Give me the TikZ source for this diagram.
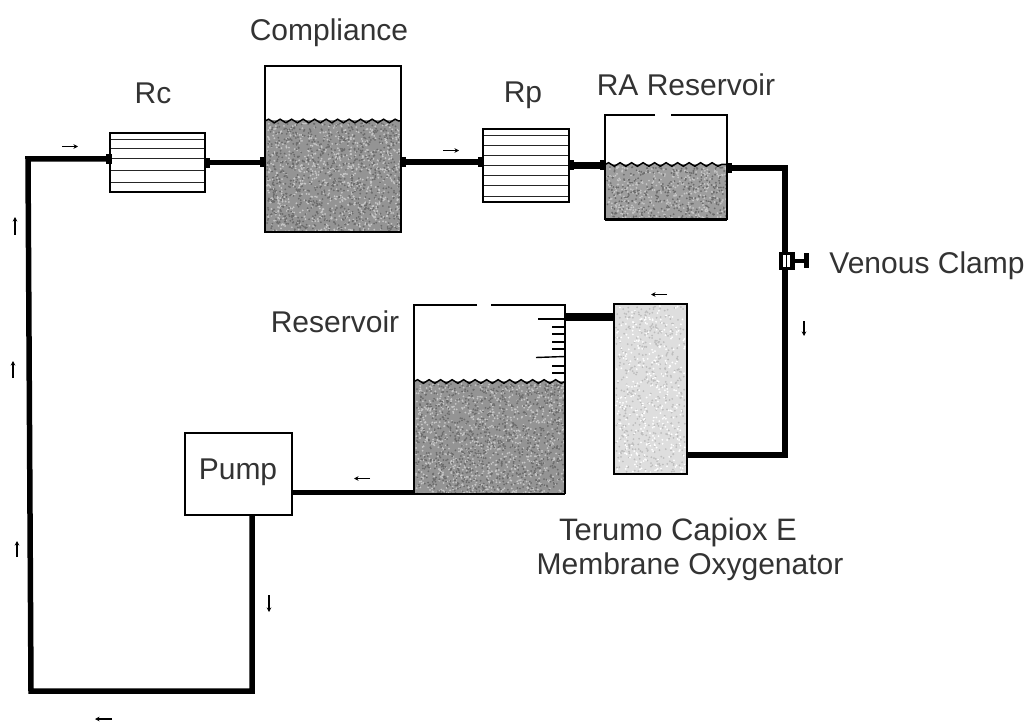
\documentclass[tikz,border=0pt]{standalone}
\usepackage{fontspec}
\setmainfont{Liberation Sans}
\usetikzlibrary{arrows.meta,decorations.pathmorphing}
\definecolor{inkc}{gray}{0.2}
\tikzset{
  box/.style={draw=black,line width=1.6pt,fill=white,inner sep=0pt,outer sep=0pt},
  ghost/.style={inner sep=0pt,outer sep=0pt},
  pipe/.style={draw=black,line width=5.5pt,line join=miter},
  stub/.style={fill=black,inner sep=0pt,outer sep=0pt,minimum width=6pt,minimum height=10pt},
  flow/.style={draw=black,line width=1.3pt,-{Stealth[length=4.5pt,width=4.5pt]}},
  label/.style={text=inkc,font=\fontsize{30}{34}\selectfont,inner sep=0pt,outer sep=0pt,anchor=base},
  wave/.style={draw=black,line width=1.5pt,decorate,decoration={snake,amplitude=1.8pt,segment length=11.5pt}},
  thin rule/.style={draw=black!85,line width=0.8pt},
  wall/.style={draw=black,line width=1.6pt}
}
\newcommand{\speckle}[6]{%
  \foreach \i in {1,...,#5}{%
    \pgfmathsetmacro{\sx}{#1+rnd*(#3-#1)}%
    \pgfmathsetmacro{\sy}{#2+rnd*(#4-#2)}%
    \fill[#6] (\sx,\sy) circle (1);%
  }%
}
\newcommand{\watertank}[5]{% x0 level x1 y1 base gray
  \begin{scope}
  \clip (#1,#2) rectangle (#3,#4);
  \fill[black!#5] (#1,#2) rectangle (#3,#4);
  \pgfmathtruncatemacro{\nd}{(#3-#1)/16*(#4-#2)}%
  \speckle{#1+1}{#2+3}{#3-1}{#4-1}{\nd}{black!22}
  \speckle{#1+1}{#2+3}{#3-1}{#4-1}{\nd}{black!58}
  \end{scope}
}
\begin{document}
\begin{tikzpicture}[x=1pt,y=-1pt]
\pgfmathsetseed{42}
\useasboundingbox[fill=white] (0,0) rectangle (1028,722);

% node frames that the pipes attach to
\node[ghost,minimum width=95pt,minimum height=59pt] (rc) at (157.5,162.5) {};
\node[ghost,minimum width=136pt,minimum height=166pt] (comp) at (333,149) {};
\node[ghost,minimum width=86pt,minimum height=73pt] (rp) at (526,165.5) {};
\node[ghost,minimum width=122pt,minimum height=105pt] (ra) at (666,167.5) {};
\node[ghost,minimum width=151pt,minimum height=189pt] (res) at (489.5,399.5) {};
\node[ghost,minimum width=73pt,minimum height=170pt] (oxy) at (650.5,389) {};
\node[ghost,minimum width=107pt,minimum height=82pt] (pump) at (238.5,474) {};
\node[ghost,minimum width=16pt,minimum height=18pt] (clamp) at (787,261) {};
\coordinate (c1) at (28,159);
\coordinate (c2) at (31,691);
\coordinate (c3) at (252,691);
\coordinate (c4) at (785,168);
\coordinate (c5) at (785,455);
\coordinate (l1) at (0,317);
\coordinate (l2) at (0,492);
\coordinate (l3) at (0,162);

\draw[pipe] ([yshift=3.5pt]rc.west) -- (c1) -- (c2) -- (c3) -- (c3 |- pump.south);
\draw[pipe] (rc.east) -- (comp.west |- rc.east);
\draw[pipe] (comp.east |- l3) -- (rp.west |- l3);
\draw[pipe,line width=6.5pt] (rp.east) -- (ra.west |- rp.east);
\draw[pipe] ([yshift=-0.5pt]ra.east) -- (c4) -- (c5) -- (oxy.east |- c5);
\draw[pipe,line width=7.5pt] (res.east |- l1) -- (oxy.west |- l1);
\draw[pipe,line width=5pt] (pump.east |- l2) -- (res.west |- l2);

% Compliance
\node[box,minimum width=136pt,minimum height=166pt] at (comp.center) {};
\watertank{266}{120}{400}{231}{42}
\draw[wave] (265,121) -- (401,121);
\draw[wall] (comp.north west) rectangle (comp.south east);

% Rc
\node[box,minimum width=95pt,minimum height=59pt] at (rc.center) {};
\foreach \yy in {139,148,158,170,182} \draw[thin rule] (111,\yy) -- (204,\yy);
% Rp
\node[box,minimum width=86pt,minimum height=73pt] at (rp.center) {};
\foreach \yy in {135,145,155,165,175,185,196} \draw[thin rule] (484,\yy) -- (568,\yy);

% RA reservoir
\watertank{606}{164}{726}{219}{38}
\draw[wave] (605,164.5) -- (727,164.5);
\draw[wall] (655,115) -- (ra.north west) -- (ra.south west);
\draw[wall] (671,115) -- (ra.north east) -- (ra.south east);
\draw[draw=black,line width=3pt] (ra.south west) -- (ra.south east);

% Reservoir
\watertank{415}{381}{564}{493}{42}
\draw[wave] (414,381.5) -- (565,381.5);
\draw[wall] (477,305) -- (res.north west) -- (res.south west);
\draw[wall] (491,305) -- (res.north east) -- (res.south east);
\draw[wall] (res.south west) -- (res.south east);
\draw[thin rule,draw=black,line width=1.4pt] (538,319) -- (565,319);
\draw[thin rule,draw=black,line width=1.4pt] (536,357.5) -- (565,356.5);
\foreach \yy in {327,334,342,349,366,373} \draw[thin rule,draw=black,line width=1.4pt] (552,\yy) -- (565,\yy);

% Oxygenator
\node[box,fill=black!13,minimum width=73pt,minimum height=170pt] at (oxy.center) {};
\pgfmathsetseed{7}
\speckle{616}{306}{685}{472}{500}{black!26}
\speckle{616}{306}{685}{472}{350}{white}
\draw[wall] (oxy.north west) rectangle (oxy.south east);

% Pump
\node[box,minimum width=107pt,minimum height=82pt] at (pump.center) {};
\node[label,name=pumptext] at (238,479) {Pump};

% joints
\node[stub] (j1) at (109,159) {};
\node[stub] (j2) at (207,163) {};
\node[stub] (j3) at (263,162) {};
\node[stub] (j4) at (403,162) {};
\node[stub] (j5) at (481,162) {};
\node[stub] (j6) at (571,165) {};
\node[stub] (j7) at (603,165) {};
\node[stub] (j8) at (729,168) {};

% clamp
\node[fill=black,inner sep=0pt,outer sep=0pt,minimum width=16pt,minimum height=18pt] at (clamp.center) {};
\fill[white] (783,255) rectangle (790,267);
\draw[black,line width=1.2pt] (786.5,255) -- (786.5,267);
\draw[black,line width=3.5pt] (795,261) -- (806,261);
\fill[black] (804,253) rectangle (809,268);

% flow arrows
\draw[flow] (62,146.5) -- (78,146.5);
\draw[flow] (443,150.5) -- (459,150.5);
\draw[flow] (667,294.5) -- (651,294.5);
\draw[flow] (804,321) -- (804,336);
\draw[flow] (370,478.5) -- (354,478.5);
\draw[flow] (269,595) -- (269,612);
\draw[flow] (112,719) -- (95,719);
\draw[flow] (15,235) -- (15,217);
\draw[flow] (13,378) -- (13,361);
\draw[flow] (17,557) -- (17,541);

% labels
\node[label] (tcomp) at (329,41) {Compliance};
\node[label] (trc) at (153,104) {Rc};
\node[label] (trp) at (523,103) {Rp};
\node[label] (tra) at (686,96) {RA Reservoir};
\node[label] (tvc) at (927,273) {Venous Clamp};
\node[label] (tres) at (335,332) {Reservoir};
\node[label,font=\fontsize{31}{34}\selectfont] (tter) at (678,540) {Terumo Capiox E};
\node[label] (tmem) at (690,574) {Membrane Oxygenator};
\end{tikzpicture}
\end{document}
